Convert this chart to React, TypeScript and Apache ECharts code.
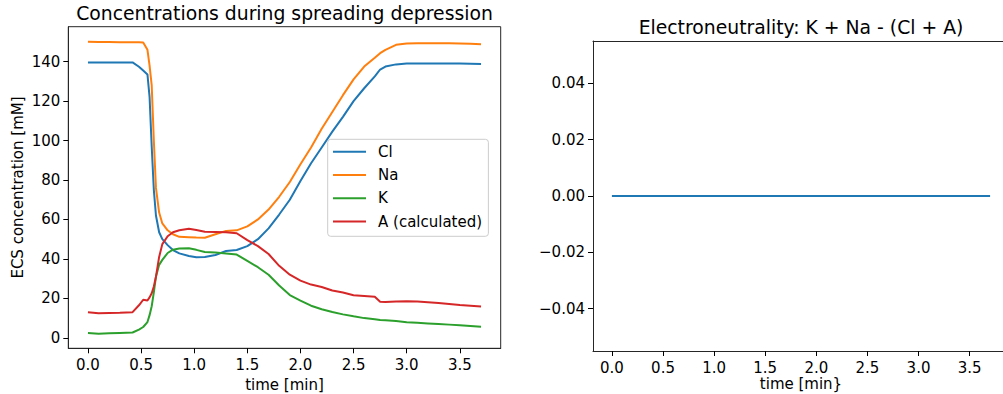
import React, { useEffect, useRef } from "react";
import * as echarts from "echarts";

const times = [0, 0.1, 0.2, 0.3, 0.42, 0.48, 0.52, 0.56, 0.58, 0.6, 0.62, 0.64, 0.67, 0.7, 0.75, 0.8, 0.86, 0.95, 1.02, 1.1, 1.2, 1.3, 1.4, 1.5, 1.6, 1.7, 1.8, 1.9, 2.0, 2.1, 2.2, 2.3, 2.4, 2.5, 2.6, 2.7, 2.75, 2.8, 2.9, 3.0, 3.1, 3.2, 3.3, 3.4, 3.5, 3.6, 3.7];

const clValues = [139.6, 139.6, 139.6, 139.6, 139.6, 137.4, 135.5, 133.5, 122, 97, 75, 62, 53.5, 50, 47, 44.5, 42.8, 41.5, 40.8, 41, 42, 44, 44.5, 46.5, 50, 55.5, 62.5, 70, 79.5, 88.5, 96.5, 104.5, 112, 120, 126.5, 132.5, 136, 137.5, 138.6, 139.1, 139.1, 139.1, 139.1, 139, 139, 138.9, 138.8];

const naValues = [150.1, 150, 149.9, 149.8, 149.8, 149.8, 149.7, 146, 138, 128, 100, 76, 63.5, 58, 54.5, 52.5, 51.2, 51, 50.8, 50.7, 52.5, 54.2, 54.5, 56.5, 60, 65, 71.5, 79, 88, 96.5, 106, 114.5, 123, 131, 137.5, 142, 144.3, 146, 148.5, 149.2, 149.3, 149.3, 149.3, 149.3, 149.2, 149, 148.8];

const kValues = [2.4, 2.1, 2.3, 2.5, 2.7, 4.2, 5.5, 8, 11.5, 16, 23, 31, 37, 39.5, 43, 44.7, 45.3, 45.4, 44.6, 43.5, 43.2, 42.8, 42.2, 39, 35.8, 32, 26.5, 21.7, 18.9, 16.3, 14.5, 13.1, 11.9, 10.9, 10, 9.4, 9, 8.9, 8.5, 7.9, 7.6, 7.3, 7, 6.7, 6.4, 6, 5.6];

const aValues = [13.0, 12.5, 12.6, 12.7, 13, 16.5, 19.3, 18.9, 20.5, 22.6, 26, 31, 41, 47.5, 51.5, 53.5, 54.5, 55.3, 54.7, 53.8, 53.7, 53.5, 53, 49.5, 46.5, 42.5, 36.5, 32, 29, 27, 25.8, 24, 23, 21.6, 21.2, 20.8, 18.3, 18.2, 18.4, 18.5, 18.4, 18.1, 17.7, 17.2, 16.7, 16.3, 15.9];

const neutralityTimes = [0, 3.7];
const neutralityValues = [0, 0];

const seriesNames = ["Cl", "Na", "K", "A (calculated)"];
const seriesColors = ["#1f77b4", "#ff7f0e", "#2ca02c", "#d62728"];

const xTicks = [0, 0.5, 1, 1.5, 2, 2.5, 3, 3.5];
const leftYTicks = [0, 20, 40, 60, 80, 100, 120, 140];
const rightYTicks = [-0.04, -0.02, 0, 0.02, 0.04];

const FONT = "DejaVu Sans";
const AXIS_COLOR = "#262626";

function axisCommon() {
  return {
    axisLine: { show: true, onZero: false, lineStyle: { color: AXIS_COLOR, width: 1 } },
    splitLine: { show: false },
  };
}

export default function App() {
  const ref = useRef<HTMLDivElement>(null);
  useEffect(() => {
    if (!ref.current) return;
    const chart = echarts.init(ref.current, undefined, { renderer: "svg" });
    const xLabelStyle = { fontFamily: FONT, fontSize: 15, color: "#000", margin: 9 };
    const yLabelStyle = { fontFamily: FONT, fontSize: 15, color: "#000", margin: 8 };
    const nameStyle = { fontFamily: FONT, fontSize: 15, color: "#000", lineHeight: 15 };
    const tick = (vals: number[]) => ({ show: true, length: 5, lineStyle: { color: "#000", width: 1 }, customValues: vals });
    const pairs = [clValues, naValues, kValues, aValues];
    chart.setOption({
      animation: false,
      backgroundColor: "#fff",
      graphic: [
        {
          type: "text",
          x: 284.5,
          y: 13.5,
          style: {
            text: "Concentrations during spreading depression",
            font: `18.8px "${FONT}"`,
            fill: "#000",
            textAlign: "center",
            textVerticalAlign: "middle",
          },
        },
        {
          type: "text",
          x: 801,
          y: 27.5,
          style: {
            text: "Electroneutrality: K + Na - (Cl + A)",
            font: `18.8px "${FONT}"`,
            fill: "#000",
            textAlign: "center",
            textVerticalAlign: "middle",
          },
        },
        {
          type: "text",
          x: 801,
          y: 384,
          style: {
            text: "time [min}",
            font: `15px "${FONT}"`,
            fill: "#000",
            textAlign: "center",
            textVerticalAlign: "middle",
          },
        },
      ],
      grid: [
        { left: 68.3, top: 26.7, width: 432.4, height: 321.6, show: true, borderColor: AXIS_COLOR, borderWidth: 1, backgroundColor: "transparent", outerBoundsMode: "none", containLabel: false },
        { left: 593, top: 41, width: 416, height: 310, show: false, outerBoundsMode: "none", containLabel: false },
      ],
      xAxis: [
        {
          ...axisCommon(),
          gridIndex: 0,
          type: "value",
          min: -0.185,
          max: 3.885,
          axisTick: tick(xTicks),
          axisLabel: { ...xLabelStyle, customValues: xTicks, formatter: (v: number) => v.toFixed(1) },
          name: "time [min]",
          nameLocation: "middle",
          nameGap: 27,
          nameTextStyle: nameStyle,
        },
        {
          ...axisCommon(),
          gridIndex: 1,
          type: "value",
          min: -0.185,
          max: 3.885,
          axisTick: tick(xTicks),
          axisLabel: { ...xLabelStyle, customValues: xTicks, formatter: (v: number) => v.toFixed(1) },
        },
        {
          ...axisCommon(),
          gridIndex: 1,
          type: "value",
          position: "top",
          min: -0.185,
          max: 3.885,
          axisTick: { show: false },
          axisLabel: { show: false },
        },
      ],
      yAxis: [
        {
          ...axisCommon(),
          gridIndex: 0,
          type: "value",
          min: -5.3,
          max: 157.7,
          axisTick: tick(leftYTicks),
          axisLabel: { ...yLabelStyle, customValues: leftYTicks, formatter: (v: number) => String(Math.round(v)) },
          name: "ECS concentration [mM]",
          nameLocation: "middle",
          nameGap: 43,
          nameTextStyle: nameStyle,
        },
        {
          ...axisCommon(),
          gridIndex: 1,
          type: "value",
          min: -0.055,
          max: 0.055,
          axisTick: tick(rightYTicks),
          axisLabel: {
            ...yLabelStyle,
            customValues: rightYTicks,
            formatter: (v: number) => {
              const s = Math.abs(v).toFixed(2);
              return v < -1e-9 ? "\u2212" + s : s;
            },
          },
        },
      ],
      legend: {
        orient: "vertical",
        left: 327.7,
        top: 139.3,
        data: seriesNames,
        icon: "rect",
        itemWidth: 33,
        itemHeight: 2,
        itemGap: 6.3,
        padding: [3.9, 6.3, 6.2, 5.3],
        borderColor: "#cccccc",
        borderWidth: 1,
        borderRadius: 3,
        backgroundColor: "rgba(255,255,255,0.8)",
        textStyle: { fontFamily: FONT, fontSize: 15, color: "#000", lineHeight: 17, padding: [0, 0, 0, 7] },
      },
      series: [
        ...seriesNames.map((name, si) => ({
          name,
          type: "line",
          xAxisIndex: 0,
          yAxisIndex: 0,
          showSymbol: false,
          symbol: "none",
          data: times.map((t, i) => [t, pairs[si][i]]),
          lineStyle: { color: seriesColors[si], width: 2 },
          itemStyle: { color: seriesColors[si] },
        })),
        {
          name: "neutrality",
          type: "line",
          xAxisIndex: 1,
          yAxisIndex: 1,
          showSymbol: false,
          symbol: "none",
          data: neutralityTimes.map((t, i) => [t, neutralityValues[i]]),
          lineStyle: { color: "#1f77b4", width: 2 },
          itemStyle: { color: "#1f77b4" },
        },
      ],
    });
    return () => chart.dispose();
  }, []);
  return (
    <div
      ref={ref}
      style={{ position: "fixed", left: 0, top: 0, width: 1003, height: 394, background: "#fff" }}
    />
  );
}
